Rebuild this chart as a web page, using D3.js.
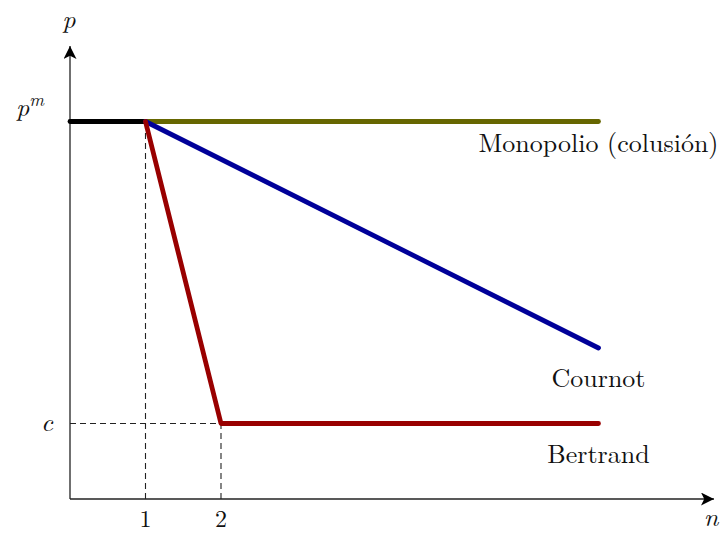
<!DOCTYPE html>
<html><head><meta charset="utf-8">
<script src="https://cdn.jsdelivr.net/npm/d3@7"></script>
<style>body{margin:0;background:#fff}svg{display:block}text{font-family:"Latin Modern Roman","Liberation Serif","DejaVu Serif",serif;fill:#111}</style>
</head><body><svg id="c" width="724" height="533"></svg>
<script>
// Data
const monopolyPts = [[1, 5], [7, 5]];
const collusionStart = [[0, 5], [1, 5]];
const cournotPts = [[1, 5], [7, 2]];
const bertrandPts = [[1, 5], [2, 1], [7, 1]];
const pm = 5, cVal = 1;
const xTicks = [1, 2];
const labelTexts = ["Monopolio (colusión)", "Cournot", "Bertrand"];
const labelAt = [[7, 5], [7, 2], [7, 1]];

const svg = d3.select("#c");
const x = d3.scaleLinear().domain([0, 8.53]).range([70, 714]);
const y = d3.scaleLinear().domain([0, 6]).range([499, 46]);
const FS = 26;

const defs = svg.append("defs");
defs.append("marker").attr("id","arr").attr("viewBox","0 0 10 10").attr("refX",10).attr("refY",5)
  .attr("markerWidth",13).attr("markerHeight",13).attr("markerUnits","userSpaceOnUse").attr("orient","auto")
  .append("path").attr("d","M0,0 L10,5 L0,10 L2.5,5 Z").attr("fill","#000");

// dashed guides
const dash = svg.append("g").attr("stroke","#222").attr("stroke-width",1.1).attr("stroke-dasharray","6,4").attr("fill","none");
dash.append("line").attr("x1",x(1)).attr("x2",x(1)).attr("y1",y(0)).attr("y2",y(pm));
dash.append("line").attr("x1",x(2)).attr("x2",x(2)).attr("y1",y(0)).attr("y2",y(cVal));
dash.append("line").attr("x1",x(0)).attr("x2",x(2)).attr("y1",y(cVal)).attr("y2",y(cVal));

// axes
svg.append("line").attr("x1",x(0)).attr("y1",y(0)).attr("x2",x(8.53)).attr("y2",y(0))
  .attr("stroke","#222").attr("stroke-width",1.3).attr("marker-end","url(#arr)");
svg.append("line").attr("x1",x(0)).attr("y1",y(0)).attr("x2",x(0)).attr("y2",y(6))
  .attr("stroke","#222").attr("stroke-width",1.3).attr("marker-end","url(#arr)");

const line = d3.line().x(d=>x(d[0])).y(d=>y(d[1]));
const draw = (pts,col)=>svg.append("path").datum(pts).attr("d",line).attr("fill","none")
  .attr("stroke",col).attr("stroke-width",4.8).attr("stroke-linecap","round").attr("stroke-linejoin","round");
draw(collusionStart,"#000");
draw(monopolyPts,"#666600");
draw(cournotPts,"#000099");
draw(bertrandPts,"#990000");

// tick labels
svg.selectAll(".xt").data(xTicks).join("text").attr("x",d=>x(d)).attr("y",527)
  .attr("text-anchor","middle").attr("font-size",24).text(d=>d);

// axis labels
svg.append("text").attr("x",69).attr("y",28).attr("text-anchor","middle").attr("font-size",FS).attr("font-style","italic").text("p");
svg.append("text").attr("x",711).attr("y",526).attr("text-anchor","middle").attr("font-size",FS).attr("font-style","italic").text("n");
const pmT = svg.append("text").attr("x",30).attr("y",y(pm)-6).attr("text-anchor","middle").attr("font-size",FS).attr("font-style","italic");
pmT.append("tspan").text("p");
pmT.append("tspan").attr("font-size",18).attr("dy",-10).text("m");
svg.append("text").attr("x",47).attr("y",y(cVal)+7).attr("text-anchor","middle").attr("font-size",FS).attr("font-style","italic").text("c");

const offs = [30, 39, 39];
svg.selectAll(".lab").data(labelTexts).join("text").attr("x",(d,i)=>x(labelAt[i][0])).attr("y",(d,i)=>y(labelAt[i][1])+offs[i])
  .attr("text-anchor","middle").attr("font-size",FS).text(d=>d);
</script></body></html>
